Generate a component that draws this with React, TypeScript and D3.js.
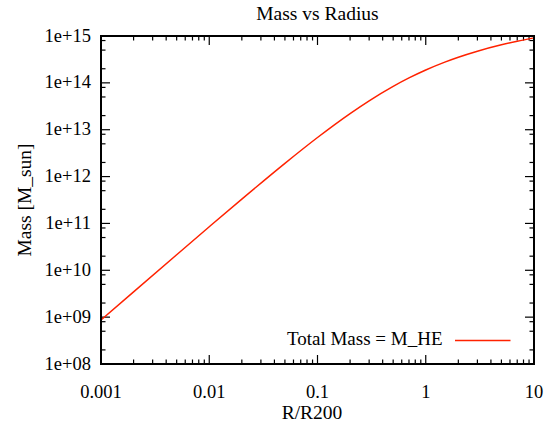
import React from "react";
import * as d3 from "d3";

const radius: number[] = [0.001, 0.002, 0.005, 0.01, 0.02, 0.05, 0.1, 0.2, 0.3, 0.5, 0.7, 1, 1.5, 2, 3, 5, 7, 10];
const mass: number[] = [8.7e8, 3.47e9, 2.15e10, 8.49e10, 3.31e11, 1.919e12, 6.83e12, 2.213e13, 4.142e13, 8.42e13, 1.274e14, 1.883e14, 2.774e14, 3.529e14, 4.747e14, 6.491e14, 7.738e14, 9.12e14];
const xTickValues: number[] = [0.001, 0.01, 0.1, 1, 10];
const xTickLabels: string[] = ["0.001", "0.01", "0.1", "1", "10"];
const yTickValues: number[] = [1e8, 1e9, 1e10, 1e11, 1e12, 1e13, 1e14, 1e15];
const yTickLabels: string[] = ["1e+08", "1e+09", "1e+10", "1e+11", "1e+12", "1e+13", "1e+14", "1e+15"];
const xMinorMults: number[] = [2, 3, 4, 5, 6, 7, 8, 9];
const yMinorMults: number[] = [2, 5, 8];
const title = "Mass vs Radius";
const xTitle = "R/R200";
const yTitle = "Mass [M_sun]";
const legendLabel = "Total Mass = M_HE";

export default function App() {
  const W = 544, H = 430;
  const left = 101, right = 534, top = 36, bottom = 364;
  const x = d3.scaleLog().domain([0.001, 10]).range([left, right]);
  const y = d3.scaleLog().domain([1e8, 1e15]).range([bottom, top]);
  const font = '"Liberation Serif", "DejaVu Serif", serif';
  const line = d3
    .line<number>()
    .x((_, i) => x(radius[i]))
    .y((d) => y(d))
    .curve(d3.curveMonotoneX);

  const xMinor: number[] = [];
  for (let i = 0; i < xTickValues.length - 1; i++)
    xMinorMults.forEach((m) => xMinor.push(xTickValues[i] * m));
  const yMinor: number[] = [];
  for (let i = 0; i < yTickValues.length - 1; i++)
    yMinorMults.forEach((m) => yMinor.push(yTickValues[i] * m));

  const maj = 9, mnr = 4.5;
  const ts = (size: number) => ({ fontFamily: font, fontSize: size + "px" });
  const cx = (left + right) / 2;
  return (
    <svg width={W} height={H} style={{ position: "absolute", left: 0, top: 0, background: "#fff" }}>
      <rect x={0} y={0} width={W} height={H} fill="#fff" />
      <text x={cx} y={19.5} style={ts(19.5)} textAnchor="middle">{title}</text>
      <g stroke="#000" strokeWidth={1.2}>
        {xTickValues.map((v, i) => (
          <g key={"xm" + i}>
            <line x1={x(v)} x2={x(v)} y1={bottom} y2={bottom - maj} />
            <line x1={x(v)} x2={x(v)} y1={top} y2={top + maj} />
          </g>
        ))}
        {xMinor.map((v, i) => (
          <g key={"xn" + i}>
            <line x1={x(v)} x2={x(v)} y1={bottom} y2={bottom - mnr} />
            <line x1={x(v)} x2={x(v)} y1={top} y2={top + mnr} />
          </g>
        ))}
        {yTickValues.map((v, i) => (
          <g key={"ym" + i}>
            <line x1={left} x2={left + maj} y1={y(v)} y2={y(v)} />
            <line x1={right} x2={right - maj} y1={y(v)} y2={y(v)} />
          </g>
        ))}
        {yMinor.map((v, i) => (
          <g key={"yn" + i}>
            <line x1={left} x2={left + mnr} y1={y(v)} y2={y(v)} />
            <line x1={right} x2={right - mnr} y1={y(v)} y2={y(v)} />
          </g>
        ))}
      </g>
      <path d={line(mass) || ""} fill="none" stroke="#ff2200" strokeWidth={1.5} />
      <rect x={left} y={top} width={right - left} height={bottom - top} fill="none" stroke="#000" strokeWidth={2} />
      <g>
        {xTickValues.map((v, i) => (
          <text key={"xl" + i} x={x(v)} y={397.5} style={ts(18.5)} textAnchor="middle">{xTickLabels[i]}</text>
        ))}
        {yTickValues.map((v, i) => (
          <text key={"yl" + i} x={91} y={y(v) + 5.5} style={ts(18.5)} textAnchor="end">{yTickLabels[i]}</text>
        ))}
      </g>
      <text x={312} y={419} style={ts(19.5)} textAnchor="middle">{xTitle}</text>
      <text transform={`translate(30.5,200) rotate(-90)`} style={ts(19.5)} textAnchor="middle">{yTitle}</text>
      <text x={442.5} y={345} style={ts(19)} textAnchor="end">{legendLabel}</text>
      <line x1={455} x2={510.5} y1={340.5} y2={340.5} stroke="#ff2200" strokeWidth={1.5} />
    </svg>
  );
}
